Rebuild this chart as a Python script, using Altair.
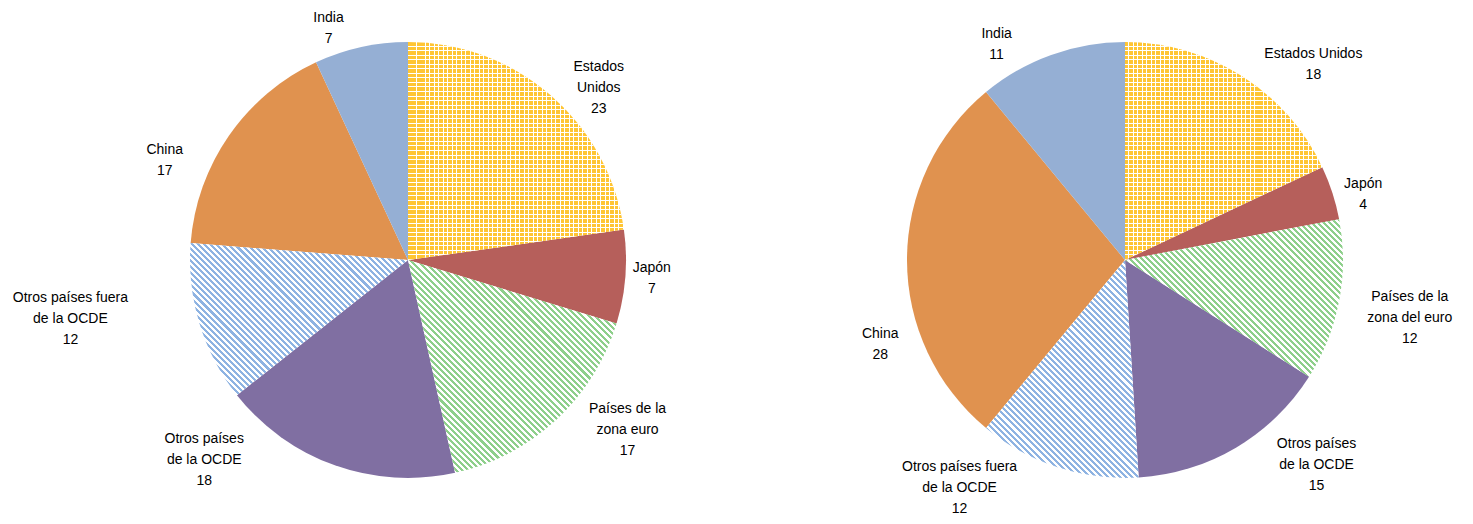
import math
import altair as alt
import pandas as pd

# ---------------- data ----------------
categories = [
    "Estados Unidos",
    "Japón",
    "Países de la zona euro",
    "Otros países de la OCDE",
    "Otros países fuera de la OCDE",
    "China",
    "India",
]
left_values = [23, 7, 17, 18, 12, 17, 7]
right_values = [18, 4, 12, 15, 12, 28, 11]
left_names = [
    "Estados\nUnidos",
    "Japón",
    "Países de la\nzona euro",
    "Otros países\nde la OCDE",
    "Otros países fuera\nde la OCDE",
    "China",
    "India",
]
right_names = [
    "Estados Unidos",
    "Japón",
    "Países de la\nzona del euro",
    "Otros países\nde la OCDE",
    "Otros países fuera\nde la OCDE",
    "China",
    "India",
]

# ---------------- style ----------------
R = 218
FONT = "Liberation Sans"
FONT_SIZE = 14
LINE_H = 21
CHAR_W = 6.8
PAD = 12
HATCH_PERIOD = 4.3
GRID_PERIOD = 4.5
SOLID_COLORS = {
    "Japón": "#B65F5B",
    "Otros países de la OCDE": "#806FA2",
    "China": "#E0924F",
    "India": "#95AFD4",
}
HATCH_COLORS = {
    "Países de la zona euro": "#8ECF8B",
    "Otros países fuera de la OCDE": "#8EB3E2",
}
GRID_CAT = "Estados Unidos"
GRID_COLOR = "#FFC533"
GRID_FILL_FRAC = 0.78
# label placement adjustments (angle in degrees, extra distance in px)
LEFT_NUDGE = [(7, -12), (0, -4), (-9.5, -4), (26, 4), (7, 47), (-12.6, 9), (-6.5, -11)]
RIGHT_NUDGE = [(11.6, -7), (2.7, -5), (0.7, 11), (-12.4, 0), (18, -10), (-19, 6), (-11, -6)]


def sector_box(a0, a1, r):
    pts = [(0.0, 0.0), (r * math.sin(a0), -r * math.cos(a0)), (r * math.sin(a1), -r * math.cos(a1))]
    for k in range(5):
        q = k * math.pi / 2
        if a0 < q < a1:
            pts.append((r * math.sin(q), -r * math.cos(q)))
    xs = [p[0] for p in pts]
    ys = [p[1] for p in pts]
    return max(xs) - min(xs), max(ys) - min(ys)


def stripe_stops(c_first, c_second, n, frac):
    stops = []
    for k in range(n):
        o0 = round(k / n, 5)
        o1 = round((k + frac) / n, 5)
        o2 = round((k + 1) / n, 5)
        stops += [
            {"offset": o0, "color": c_first},
            {"offset": o1, "color": c_first},
            {"offset": o1, "color": c_second},
            {"offset": o2, "color": c_second},
        ]
    return stops


def hatch(col, w, h):
    n = max(1, round((w + h) / (math.sqrt(2) * HATCH_PERIOD)))
    a = (w + h) / (w * w + h * h)
    return {"gradient": "linear", "x1": 0, "y1": 1, "x2": a * w, "y2": 1 - a * h,
            "stops": stripe_stops(col, "#FFFFFF", n, 0.5)}


def pie_chart(values, names, nudges, width, height):
    df = pd.DataFrame({
        "cat": categories,
        "value": values,
        "name": names,
        "order": list(range(len(categories))),
    })
    lines_list = [n.split("\n") + [str(v)] for n, v in zip(names, values)]
    df["hw"] = [max(len(l) for l in ls) * CHAR_W / 2 for ls in lines_list]
    df["hh"] = [len(ls) * LINE_H / 2 for ls in lines_list]
    df["off"] = [(len(ls) - 1) * LINE_H / 2 for ls in lines_list]
    df["da"] = [math.radians(a) for a, _ in nudges]
    df["dr"] = [r for _, r in nudges]

    base = (
        alt.Chart(df)
        .transform_joinaggregate(total="sum(value)")
        .transform_window(cum="sum(value)", sort=[alt.SortField("order", order="ascending")])
        .transform_calculate(
            t0="2*PI*(datum.cum - datum.value)/datum.total",
            t1="2*PI*datum.cum/datum.total",
        )
    )
    theta = alt.Theta("t0:Q", scale=None)
    theta2 = alt.Theta2("t1:Q")

    layers = [
        base.transform_filter(alt.FieldOneOfPredicate(field="cat", oneOf=list(SOLID_COLORS)))
        .mark_arc(radius=R)
        .encode(
            theta=theta,
            theta2=theta2,
            fill=alt.Fill("cat:N", scale=alt.Scale(domain=list(SOLID_COLORS),
                                                   range=list(SOLID_COLORS.values())), legend=None),
        )
    ]

    total = sum(values)
    cum = 0
    boxes = {}
    for c, v in zip(categories, values):
        a0 = 2 * math.pi * cum / total
        cum += v
        a1 = 2 * math.pi * cum / total
        boxes[c] = sector_box(a0, a1, R)

    for c, col in HATCH_COLORS.items():
        w, h = boxes[c]
        layers.append(
            base.transform_filter(alt.datum.cat == c)
            .mark_arc(radius=R, fill=hatch(col, w, h))
            .encode(theta=theta, theta2=theta2)
        )

    w, h = boxes[GRID_CAT]
    vgrad = {"gradient": "linear", "x1": 0, "y1": 0, "x2": 1, "y2": 0,
             "stops": stripe_stops(GRID_COLOR, "#FFFFFF", max(1, round(w / GRID_PERIOD)), GRID_FILL_FRAC)}
    hgrad = {"gradient": "linear", "x1": 0, "y1": 0, "x2": 0, "y2": 1,
             "stops": stripe_stops("rgba(255,255,255,0)", "#FFFFFF", max(1, round(h / GRID_PERIOD)), GRID_FILL_FRAC)}
    layers.append(
        base.transform_filter(alt.datum.cat == GRID_CAT)
        .mark_arc(radius=R, fill=vgrad)
        .encode(theta=theta, theta2=theta2)
    )
    layers.append(
        base.transform_filter(alt.datum.cat == GRID_CAT)
        .mark_arc(radius=R, fill=hgrad)
        .encode(theta=theta, theta2=theta2)
    )

    text = (
        base.transform_calculate(
            txt="datum.name + '\\n' + datum.value",
            ang0="(datum.t0 + datum.t1)/2 + datum.da",
        )
        .transform_calculate(
            d0=f"{R + PAD} + abs(sin(datum.ang0))*datum.hw + abs(cos(datum.ang0))*datum.hh + datum.dr"
        )
        .transform_calculate(
            px="datum.d0*sin(datum.ang0)",
            py="-datum.d0*cos(datum.ang0) - datum.off",
        )
        .transform_calculate(
            rad="sqrt(datum.px*datum.px + datum.py*datum.py)",
            ang="atan2(datum.px, -datum.py)",
        )
        .mark_text(font=FONT, fontSize=FONT_SIZE, lineBreak="\n", lineHeight=LINE_H,
                   align="center", baseline="middle", color="#000000")
        .encode(
            theta=alt.Theta("ang:Q", scale=None),
            radius=alt.Radius("rad:Q", scale=None),
            text="txt:N",
        )
    )
    layers.append(text)
    return alt.layer(*layers).properties(width=width, height=height)


left = pie_chart(left_values, left_names, LEFT_NUDGE, 800, 504)
right = pie_chart(right_values, right_names, RIGHT_NUDGE, 634, 504)

chart = (
    alt.hconcat(left, right, spacing=0, padding=0)
    .configure_view(stroke=None)
)
chart.save("out.html", embed_options={"renderer": "svg", "actions": False})
